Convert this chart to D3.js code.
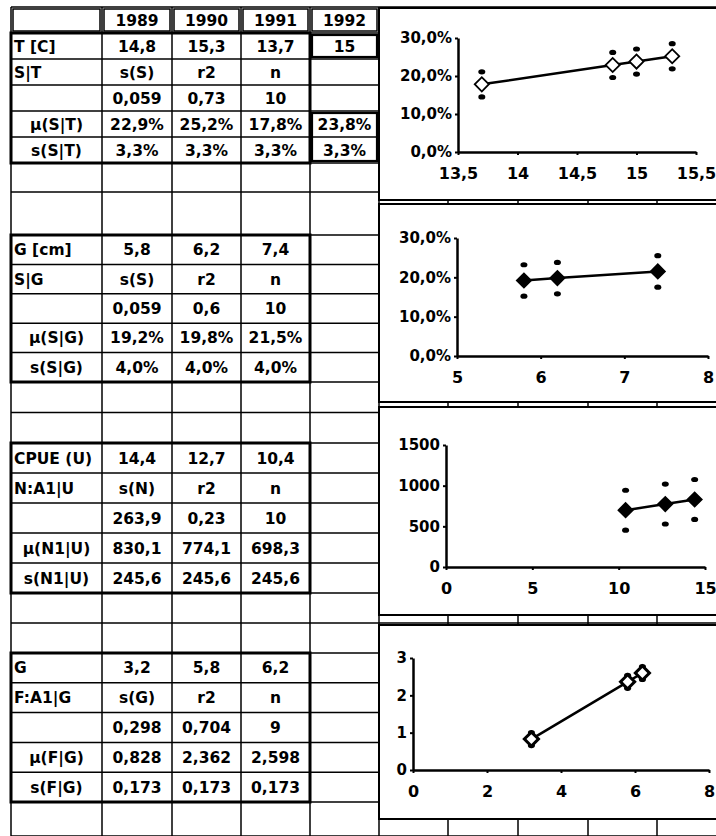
<!DOCTYPE html>
<html>
<head>
<meta charset="utf-8">
<script src="https://cdn.jsdelivr.net/npm/d3@7"></script>
<style>
  body { margin: 0; background: #fff; }
  svg text { font-family: "DejaVu Sans", "Liberation Sans", Arial, sans-serif; font-weight: bold; fill: #000; }
</style>
</head>
<body>
<div id="chart-area"></div>
<script>
// --- data ---
const years = ["1989", "1990", "1991", "1992"]

const tempC = [14.8, 15.3, 13.7, 15]
const regST = [0.059, 0.73, 10]
const muST = [0.229, 0.252, 0.178, 0.238]
const sdST = [0.033, 0.033, 0.033, 0.033]

const girthCm = [5.8, 6.2, 7.4]
const regSG = [0.059, 0.6, 10]
const muSG = [0.192, 0.198, 0.215]
const sdSG = [0.04, 0.04, 0.04]

const cpueU = [14.4, 12.7, 10.4]
const regNU = [263.9, 0.23, 10]
const muNU = [830.1, 774.1, 698.3]
const sdNU = [245.6, 245.6, 245.6]

const girthG = [3.2, 5.8, 6.2]
const regFG = [0.298, 0.704, 9]
const muFG = [0.828, 2.362, 2.598]
const sdFG = [0.173, 0.173, 0.173]

const xTicksT = [13.5, 14, 14.5, 15, 15.5]
const xTicksSG = [5, 6, 7, 8]
const xTicksNU = [0, 5, 10, 15]
const xTicksFG = [0, 2, 4, 6, 8]
const yTicksPct = [0, 0.1, 0.2, 0.3]
const yTicksNU = [0, 500, 1000, 1500]
const yTicksFG = [0, 1, 2, 3]

// --- formatting (decimal comma) ---
const loc = d3.formatLocale({ decimal: ",", thousands: ".", grouping: [3], currency: ["", ""] })
const pct = loc.format(".1%")
const num = v => String(v).replace(".", ",")

const WIDTH = 716
const HEIGHT = 836

const svg = d3.select("#chart-area").append("svg")
  .attr("width", WIDTH)
  .attr("height", HEIGHT)

// --- sheet grid ---
const COLS = [11, 102, 172, 241, 310, 379, 448, 518, 588, 657, 727]
const ROW_H = [26, 26, 26, 26, 26, 26, 29, 43,
  29.4, 29.4, 29.4, 29.4, 29.4, 30.5, 30.5,
  30, 30, 30, 30, 30, 30, 30,
  29.8, 29.8, 29.8, 29.8, 29.8, 34]
const ROWS = [7]
ROW_H.forEach(h => ROWS.push(ROWS[ROWS.length - 1] + h))

const tableRows = [
  ["", ...years],
  ["T [C]", ...tempC.map(num)],
  ["S|T", "s(S)", "r2", "n"],
  ["", ...regST.map(num)],
  ["μ(S|T)", ...muST.map(pct)],
  ["s(S|T)", ...sdST.map(pct)],
  [], [],
  ["G [cm]", ...girthCm.map(num)],
  ["S|G", "s(S)", "r2", "n"],
  ["", ...regSG.map(num)],
  ["μ(S|G)", ...muSG.map(pct)],
  ["s(S|G)", ...sdSG.map(pct)],
  [], [],
  ["CPUE (U)", ...cpueU.map(num)],
  ["N:A1|U", "s(N)", "r2", "n"],
  ["", ...regNU.map(num)],
  ["μ(N1|U)", ...muNU.map(num)],
  ["s(N1|U)", ...sdNU.map(num)],
  [], [],
  ["G", ...girthG.map(num)],
  ["F:A1|G", "s(G)", "r2", "n"],
  ["", ...regFG.map(num)],
  ["μ(F|G)", ...muFG.map(num)],
  ["s(F|G)", ...sdFG.map(num)],
  []
]

const grid = svg.append("g").attr("stroke", "#000").attr("fill", "none")

ROWS.forEach(y => {
  grid.append("line").attr("x1", COLS[0]).attr("x2", WIDTH).attr("y1", y).attr("y2", y)
    .attr("stroke-width", 1.5)
})
COLS.forEach(x => {
  grid.append("line").attr("x1", x).attr("x2", x).attr("y1", ROWS[0]).attr("y2", HEIGHT)
    .attr("stroke-width", 1.5)
})

// double boxes in the header row and round the 1992 cells
const inset = (c0, c1, r0, r1, w) => grid.append("rect")
  .attr("x", COLS[c0] + 2).attr("y", ROWS[r0] + 2)
  .attr("width", COLS[c1] - COLS[c0] - 4).attr("height", ROWS[r1] - ROWS[r0] - 4)
  .attr("stroke-width", w)
for (let c = 0; c < 5; c++) inset(c, c + 1, 0, 1, 1.5)
inset(4, 5, 1, 2, 2.2)
inset(4, 5, 4, 6, 2.2)

// thick block borders
const block = (r0, r1) => grid.append("rect")
  .attr("x", COLS[0]).attr("y", ROWS[r0])
  .attr("width", COLS[4] - COLS[0]).attr("height", ROWS[r1] - ROWS[r0])
  .attr("stroke-width", 3)
block(1, 6)
block(8, 13)
block(15, 20)
block(22, 27)

const cells = svg.append("g").attr("font-size", "15.5px")
tableRows.forEach((row, r) => {
  const cy = (ROWS[r] + ROWS[r + 1]) / 2
  row.forEach((t, c) => {
    if (!t) return
    const left = c === 0 && !(t.startsWith("μ") || t.startsWith("s("))
    cells.append("text")
      .attr("x", left ? COLS[0] + 3 : (COLS[c] + COLS[c + 1]) / 2)
      .attr("y", cy)
      .attr("dy", "0.36em")
      .attr("text-anchor", left ? "start" : "middle")
      .text(t)
  })
})

// --- the four small charts ---
const panels = [
  { box: [8, 200], px: [458, 696], py: [38, 152], xDom: [13.5, 15.5], yDom: [0, 0.3],
    xTicks: xTicksT, yTicks: yTicksPct, xFmt: num, yFmt: pct,
    xs: tempC, mu: muST, sd: sdST, marker: "open" },
  { box: [204, 402], px: [457, 708], py: [238, 356], xDom: [5, 8], yDom: [0, 0.3],
    xTicks: xTicksSG, yTicks: yTicksPct, xFmt: num, yFmt: pct,
    xs: girthCm, mu: muSG, sd: sdSG, marker: "filled" },
  { box: [407, 615], px: [446, 705], py: [445, 567], xDom: [0, 15], yDom: [0, 1500],
    xTicks: xTicksNU, yTicks: yTicksNU, xFmt: num, yFmt: num,
    xs: cpueU, mu: muNU, sd: sdNU, marker: "filled" },
  { box: [625, 819], px: [413, 709], py: [658, 770], xDom: [0, 8], yDom: [0, 3],
    xTicks: xTicksFG, yTicks: yTicksFG, xFmt: num, yFmt: num,
    xs: girthG, mu: muFG, sd: sdFG, marker: "heavy" }
]

const diamond = d3.symbol(d3.symbolSquare, 100)

panels.forEach(p => {
  const g = svg.append("g")

  g.append("rect")
    .attr("x", COLS[5]).attr("y", p.box[0])
    .attr("width", WIDTH - COLS[5] + 10).attr("height", p.box[1] - p.box[0])
    .attr("fill", "#fff").attr("stroke", "#000").attr("stroke-width", 2)

  const x = d3.scaleLinear().domain(p.xDom).range(p.px)
  const y = d3.scaleLinear().domain(p.yDom).range([p.py[1], p.py[0]])

  const xAxis = g.append("g")
    .attr("transform", `translate(0, ${p.py[1]})`)
    .call(d3.axisBottom(x).tickValues(p.xTicks).tickFormat(p.xFmt)
      .tickSize(3).tickSizeOuter(0).tickPadding(13))
  xAxis.selectAll("text").attr("font-size", "16px")

  const yAxis = g.append("g")
    .attr("transform", `translate(${p.px[0]}, 0)`)
    .call(d3.axisLeft(y).tickValues(p.yTicks).tickFormat(p.yFmt)
      .tickSize(3).tickSizeOuter(0).tickPadding(3))
  yAxis.selectAll("text").attr("font-size", "15px")

  g.selectAll(".domain").attr("stroke", "#000").attr("stroke-width", 2.5)
  g.selectAll(".tick line").attr("stroke", "#000").attr("stroke-width", 2)

  const pts = p.xs.map((v, i) => ({ x: v, mu: p.mu[i], sd: p.sd[i] }))
    .sort((a, b) => a.x - b.x)

  g.append("path")
    .datum(pts)
    .attr("fill", "none")
    .attr("stroke", "#000")
    .attr("stroke-width", 2.5)
    .attr("d", d3.line().x(d => x(d.x)).y(d => y(d.mu)))

  // mean +/- one s
  pts.forEach(d => {
    [d.mu + d.sd, d.mu - d.sd].forEach(v => {
      g.append("ellipse")
        .attr("cx", x(d.x)).attr("cy", y(v))
        .attr("rx", 3.5).attr("ry", 2.6)
        .attr("fill", "#000")
    })
  })

  g.selectAll(".mark").data(pts).enter().append("path")
    .attr("class", "mark")
    .attr("d", diamond)
    .attr("transform", d => `translate(${x(d.x)}, ${y(d.mu)}) rotate(45)`)
    .attr("fill", p.marker === "filled" ? "#000" : "#fff")
    .attr("stroke", "#000")
    .attr("stroke-width", p.marker === "heavy" ? 3 : 1.8)
})
</script>
</body>
</html>
